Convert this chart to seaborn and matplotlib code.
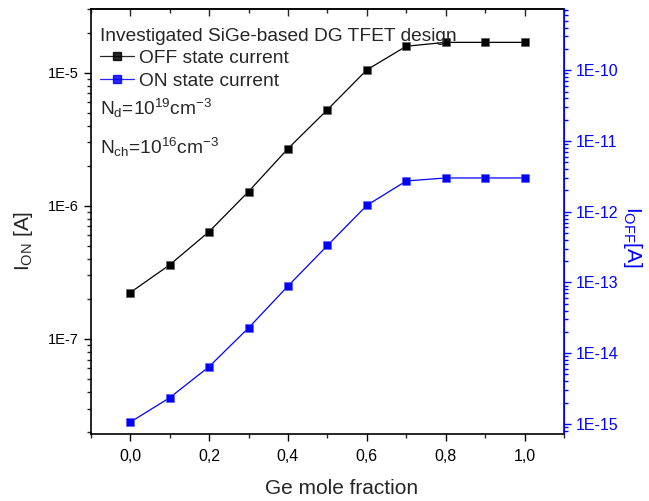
import numpy as np
import pandas as pd
import matplotlib
matplotlib.use("Agg")
import matplotlib.pyplot as plt
from matplotlib.ticker import FuncFormatter, LogLocator, FixedLocator, MultipleLocator
from matplotlib.lines import Line2D
import seaborn as sns

ge_fraction = [0.0, 0.1, 0.2, 0.3, 0.4, 0.5, 0.6, 0.7, 0.8, 0.9, 1.0]
off_current = [2.23e-7, 3.6e-7, 6.4e-7, 1.28e-6, 2.69e-6, 5.27e-6, 1.05e-5, 1.58e-5, 1.69e-5, 1.69e-5, 1.69e-5]
on_current = [1.06e-15, 2.35e-15, 6.46e-15, 2.28e-14, 8.9e-14, 3.33e-13, 1.23e-12, 2.72e-12, 3.0e-12, 3.0e-12, 3.0e-12]
x_ticks = [0.0, 0.2, 0.4, 0.6, 0.8, 1.0]
left_ticks = [1e-7, 1e-6, 1e-5]
right_ticks = [1e-15, 1e-14, 1e-13, 1e-12, 1e-11, 1e-10]

sns.set_style("ticks")
plt.rcParams['font.family'] = ['Liberation Sans', 'DejaVu Sans']
plt.rcParams['mathtext.default'] = 'regular'

df_off = pd.DataFrame({"x": ge_fraction, "y": off_current})
df_on = pd.DataFrame({"x": ge_fraction, "y": on_current})

BLUE = (0, 0, 1)
fig = plt.figure(figsize=(6.49, 5.01), dpi=100)
ax = fig.add_axes([0.140, 0.1337, 0.729, 0.848])
ax2 = ax.twinx()

sns.lineplot(data=df_off, x="x", y="y", ax=ax, color="black", marker="s",
             markersize=6.3, markeredgecolor="#555555", markeredgewidth=0.4, linewidth=0.9)
sns.lineplot(data=df_on, x="x", y="y", ax=ax2, color=BLUE, marker="s",
             markersize=6.3, markeredgecolor="#5555ff", markeredgewidth=0.4, linewidth=0.9)

ax.set_yscale("log")
ax2.set_yscale("log")
ax.set_xlim(-0.1, 1.1)
ax.set_ylim(1.93e-8, 3.0e-5)
ax2.set_ylim(7.2e-16, 7.3e-10)

fmt = FuncFormatter(lambda v, p: "1E%d" % int(round(np.log10(v))))
ax.yaxis.set_major_locator(FixedLocator(left_ticks))
ax.yaxis.set_major_formatter(fmt)
ax.yaxis.set_minor_locator(LogLocator(base=10, subs=np.arange(2, 10)))
ax2.yaxis.set_major_locator(FixedLocator(right_ticks))
ax2.yaxis.set_major_formatter(fmt)
ax2.yaxis.set_minor_locator(LogLocator(base=10, subs=np.arange(2, 10)))

ax.xaxis.set_major_locator(FixedLocator(x_ticks))
ax.xaxis.set_minor_locator(MultipleLocator(0.1))
ax.xaxis.set_major_formatter(FuncFormatter(lambda v, p: ("%.1f" % v).replace(".", ",")))

ax.tick_params(axis="both", which="major", direction="out", length=5, width=1,
               colors="black")
ax.tick_params(axis="y", labelsize=10.5)
ax.tick_params(axis="x", labelsize=11.5, pad=6)
ax.tick_params(axis="both", which="minor", direction="out", length=3, width=1)
ax2.tick_params(axis="y", which="major", direction="out", length=5, width=1,
                labelsize=11.5, colors=BLUE)
ax2.tick_params(axis="y", which="minor", direction="out", length=3, width=1, colors=BLUE)

top = ax.secondary_xaxis("top")
top.xaxis.set_major_locator(FixedLocator(x_ticks))
top.xaxis.set_minor_locator(MultipleLocator(0.1))
top.tick_params(which="major", direction="in", length=5, width=1, labeltop=False)
top.tick_params(which="minor", direction="in", length=3, width=1)
top.spines["top"].set_linewidth(1.2)

for s in ["left", "bottom", "top"]:
    ax.spines[s].set_linewidth(1.2)
    ax.spines[s].set_color("black")
ax2.spines["right"].set_color(BLUE)
ax2.spines["right"].set_linewidth(1.2)
for s in ["left", "bottom", "top"]:
    ax2.spines[s].set_visible(False)

ax.set_xlabel("Ge mole fraction", fontsize=15)
ax.xaxis.set_label_coords(0.529, -0.129)
ax.xaxis.label.set_va("center")
ax.set_ylabel("I$_{ON}$ [A]", fontsize=15)
ax.yaxis.set_label_coords(-0.142, 0.454)
ax.yaxis.label.set_va("center")
ax.yaxis.label.set_ha("center")
ax2.set_ylabel("I$_{OFF}$[A]", fontsize=15, color=BLUE, rotation=270)
ax2.yaxis.set_label_coords(1.144, 0.464)
ax2.yaxis.label.set_va("center")
ax2.yaxis.label.set_ha("center")
ax2.yaxis.label.set_rotation_mode("default")

ax.text(0.019, 0.924, "Investigated SiGe-based DG TFET design", transform=ax.transAxes,
        fontsize=13.8, ha="left", va="baseline")
handles = [Line2D([], [], color="black", marker="s", markersize=5.5, linewidth=0.9, alpha=0.85),
           Line2D([], [], color=BLUE, marker="s", markersize=5.5, linewidth=0.9, alpha=0.85)]
ax.legend(handles, ["OFF state current", "ON state current"], loc="upper left",
          bbox_to_anchor=(0.019, 0.905), frameon=False, fontsize=13.8, handlelength=1.8,
          handletextpad=0.25, labelspacing=0.3, borderaxespad=0.0, borderpad=0.0)
ax.text(0.019, 0.751, "N$_d$=10$^{19}$cm$^{-3}$", transform=ax.transAxes,
        fontsize=13.8, ha="left", va="baseline")
ax.text(0.019, 0.659, "N$_{ch}$=10$^{16}$cm$^{-3}$", transform=ax.transAxes,
        fontsize=13.8, ha="left", va="baseline")

fig.savefig("out.png", dpi=100)
